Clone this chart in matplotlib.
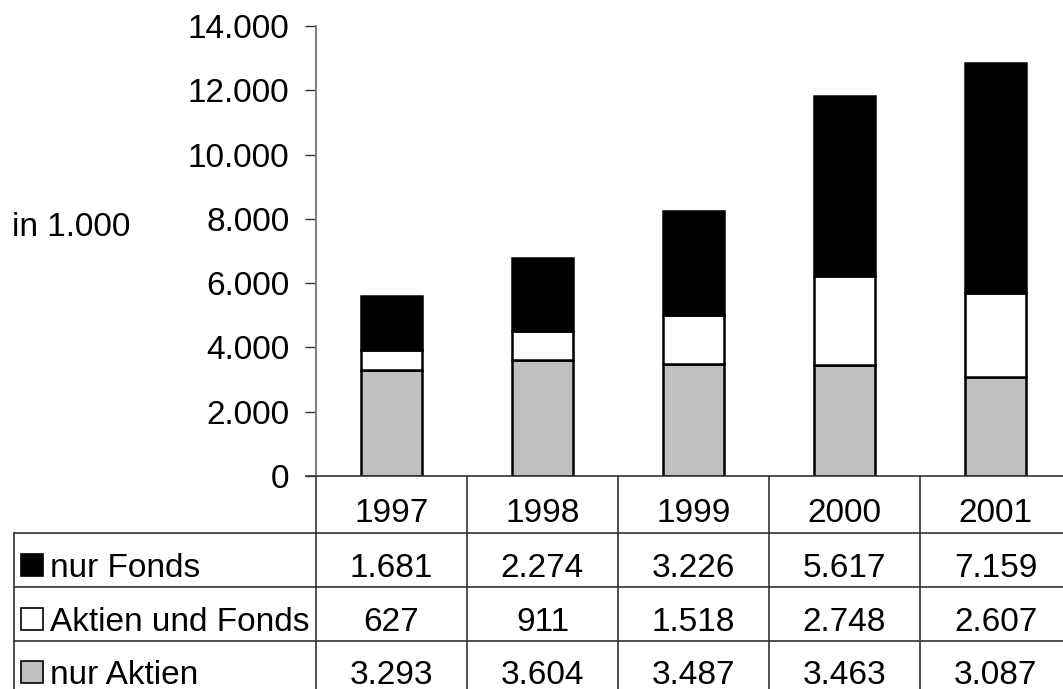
import matplotlib
matplotlib.use("Agg")
import matplotlib.pyplot as plt
import matplotlib.transforms as mtransforms
from matplotlib.patches import Rectangle

plt.rcParams["font.family"] = ["Liberation Sans", "DejaVu Sans"]

years = ["1997", "1998", "1999", "2000", "2001"]
nur_aktien = [3293, 3604, 3487, 3463, 3087]
aktien_und_fonds = [627, 911, 1518, 2748, 2607]
nur_fonds = [1681, 2274, 3226, 5617, 7159]

series_names = ["nur Fonds", "Aktien und Fonds", "nur Aktien"]
series_colors = ["black", "white", "#c0c0c0"]
y_ticks = [0, 2000, 4000, 6000, 8000, 10000, 12000, 14000]

W, H = 1063, 689
FS = 24


def fy(py):
    return 1 - py / H


def fx(px):
    return px / W


def de(v):
    return f"{v:,}".replace(",", ".")


fig = plt.figure(figsize=(W / 100, H / 100), dpi=100)
ax = fig.add_axes([fx(316), fy(476), fx(1071) - fx(316), fy(26) - fy(476)])

x = list(range(len(years)))
bw = 0.41
edge = dict(edgecolor="black", linewidth=1.8)
ax.bar(x, nur_aktien, bw, color=series_colors[2], **edge)
ax.bar(x, aktien_und_fonds, bw, bottom=nur_aktien, color=series_colors[1], **edge)
bottom3 = [a + b for a, b in zip(nur_aktien, aktien_und_fonds)]
ax.bar(x, nur_fonds, bw, bottom=bottom3, color=series_colors[0], **edge)

ax.set_xlim(-0.5, len(years) - 0.5)
ax.set_ylim(0, 14000)
ax.set_yticks(y_ticks)
ax.set_yticklabels([de(v) for v in y_ticks], fontsize=FS, va="center_baseline")
ax.set_xticks([])
ax.tick_params(axis="y", direction="out", length=8, width=1, color="#333333", pad=11)
for s in ["top", "right", "bottom"]:
    ax.spines[s].set_visible(False)
ax.spines["left"].set_color("#808080")
ax.spines["left"].set_linewidth(1.5)

fig.text(fx(12), fy(224), "in 1.000", fontsize=FS, ha="left", va="center_baseline")

# data table below the plot
tr = mtransforms.blended_transform_factory(ax.transData, fig.transFigure)
lc = "#333333"
row_lines = [476, 533, 587, 641]

fig.add_artist(plt.Line2D([fx(306), 1.0], [fy(476), fy(476)], color=lc, lw=1.2))
for py in row_lines[1:]:
    fig.add_artist(plt.Line2D([fx(14), 1.0], [fy(py), fy(py)], color=lc, lw=1.2))
fig.add_artist(plt.Line2D([fx(14), fx(14)], [fy(533), 0], color=lc, lw=1.2))
for i in range(len(years)):
    ax.plot([i - 0.5, i - 0.5], [fy(476), 0], color=lc, lw=1.2,
            transform=tr, clip_on=False)
    ax.text(i, fy(510), years[i], transform=tr, ha="center",
            va="center_baseline", fontsize=FS)

rows = [nur_fonds, aktien_und_fonds, nur_aktien]
row_centers = [565, 619, 672]
for name, color, vals, py in zip(series_names, series_colors, rows, row_centers):
    fig.add_artist(Rectangle((fx(21), fy(py + 11)), fx(22), fy(py - 11) - fy(py + 11),
                             facecolor=color, edgecolor="black", lw=1.2,
                             transform=fig.transFigure))
    fig.text(fx(50), fy(py), name, fontsize=FS, ha="left", va="center_baseline")
    for i, v in enumerate(vals):
        ax.text(i, fy(py), de(v), transform=tr, ha="center",
                va="center_baseline", fontsize=FS)

fig.savefig("out.png", dpi=100)
